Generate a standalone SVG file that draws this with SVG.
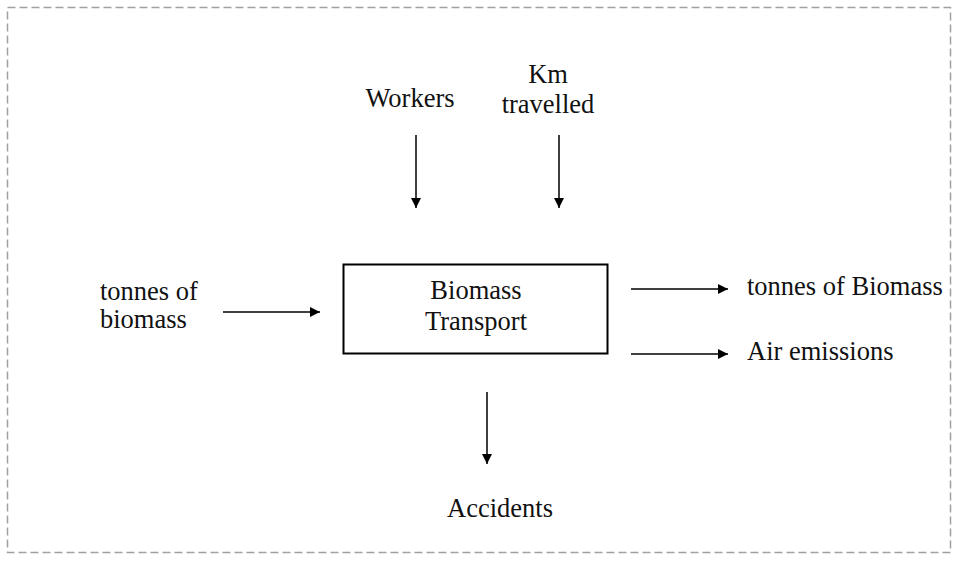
<svg xmlns="http://www.w3.org/2000/svg" width="957" height="563" viewBox="0 0 957 563">
<style>
.t{font-family:"Liberation Serif","Times New Roman",serif;font-size:26.5px;fill:#111}
.c{stroke:#000;stroke-width:1.5;fill:none}
</style>
<defs>
<marker id="ah" viewBox="0 0 10 10" refX="10" refY="5" markerWidth="10" markerHeight="10" markerUnits="userSpaceOnUse" orient="auto">
<path d="M0,0 L10,5 L0,10 Z" fill="#000"/>
</marker>
</defs>
<rect x="7.5" y="7.5" width="943" height="545" fill="none" stroke="#a0a0a0" stroke-width="1.5" stroke-dasharray="8,4"/>
<g id="box">
<rect x="343.5" y="264.5" width="264" height="89" fill="#fff" stroke="#000" stroke-width="2"/>
<text class="t" x="476" y="299" text-anchor="middle">Biomass</text>
<text class="t" x="476" y="330" text-anchor="middle">Transport</text>
</g>
<g id="workers"><text class="t" x="410" y="107" text-anchor="middle">Workers</text></g>
<g id="km"><text class="t" x="548" y="83" text-anchor="middle">Km</text><text class="t" x="548" y="113" text-anchor="middle">travelled</text></g>
<g id="input"><text class="t" x="100" y="300">tonnes of</text><text class="t" x="100" y="328">biomass</text></g>
<g id="out1"><text class="t" x="747" y="295">tonnes of Biomass</text></g>
<g id="out2"><text class="t" x="747" y="360">Air emissions</text></g>
<g id="accidents"><text class="t" x="500" y="517" text-anchor="middle">Accidents</text></g>
<g id="connectors">
<line class="c" x1="416" y1="135" x2="416" y2="208" marker-end="url(#ah)"/>
<line class="c" x1="559" y1="135" x2="559" y2="208" marker-end="url(#ah)"/>
<line class="c" x1="223" y1="312" x2="320" y2="312" marker-end="url(#ah)"/>
<line class="c" x1="631" y1="289" x2="728" y2="289" marker-end="url(#ah)"/>
<line class="c" x1="631" y1="354" x2="728" y2="354" marker-end="url(#ah)"/>
<line class="c" x1="487" y1="392" x2="487" y2="464" marker-end="url(#ah)"/>
</g>
</svg>
